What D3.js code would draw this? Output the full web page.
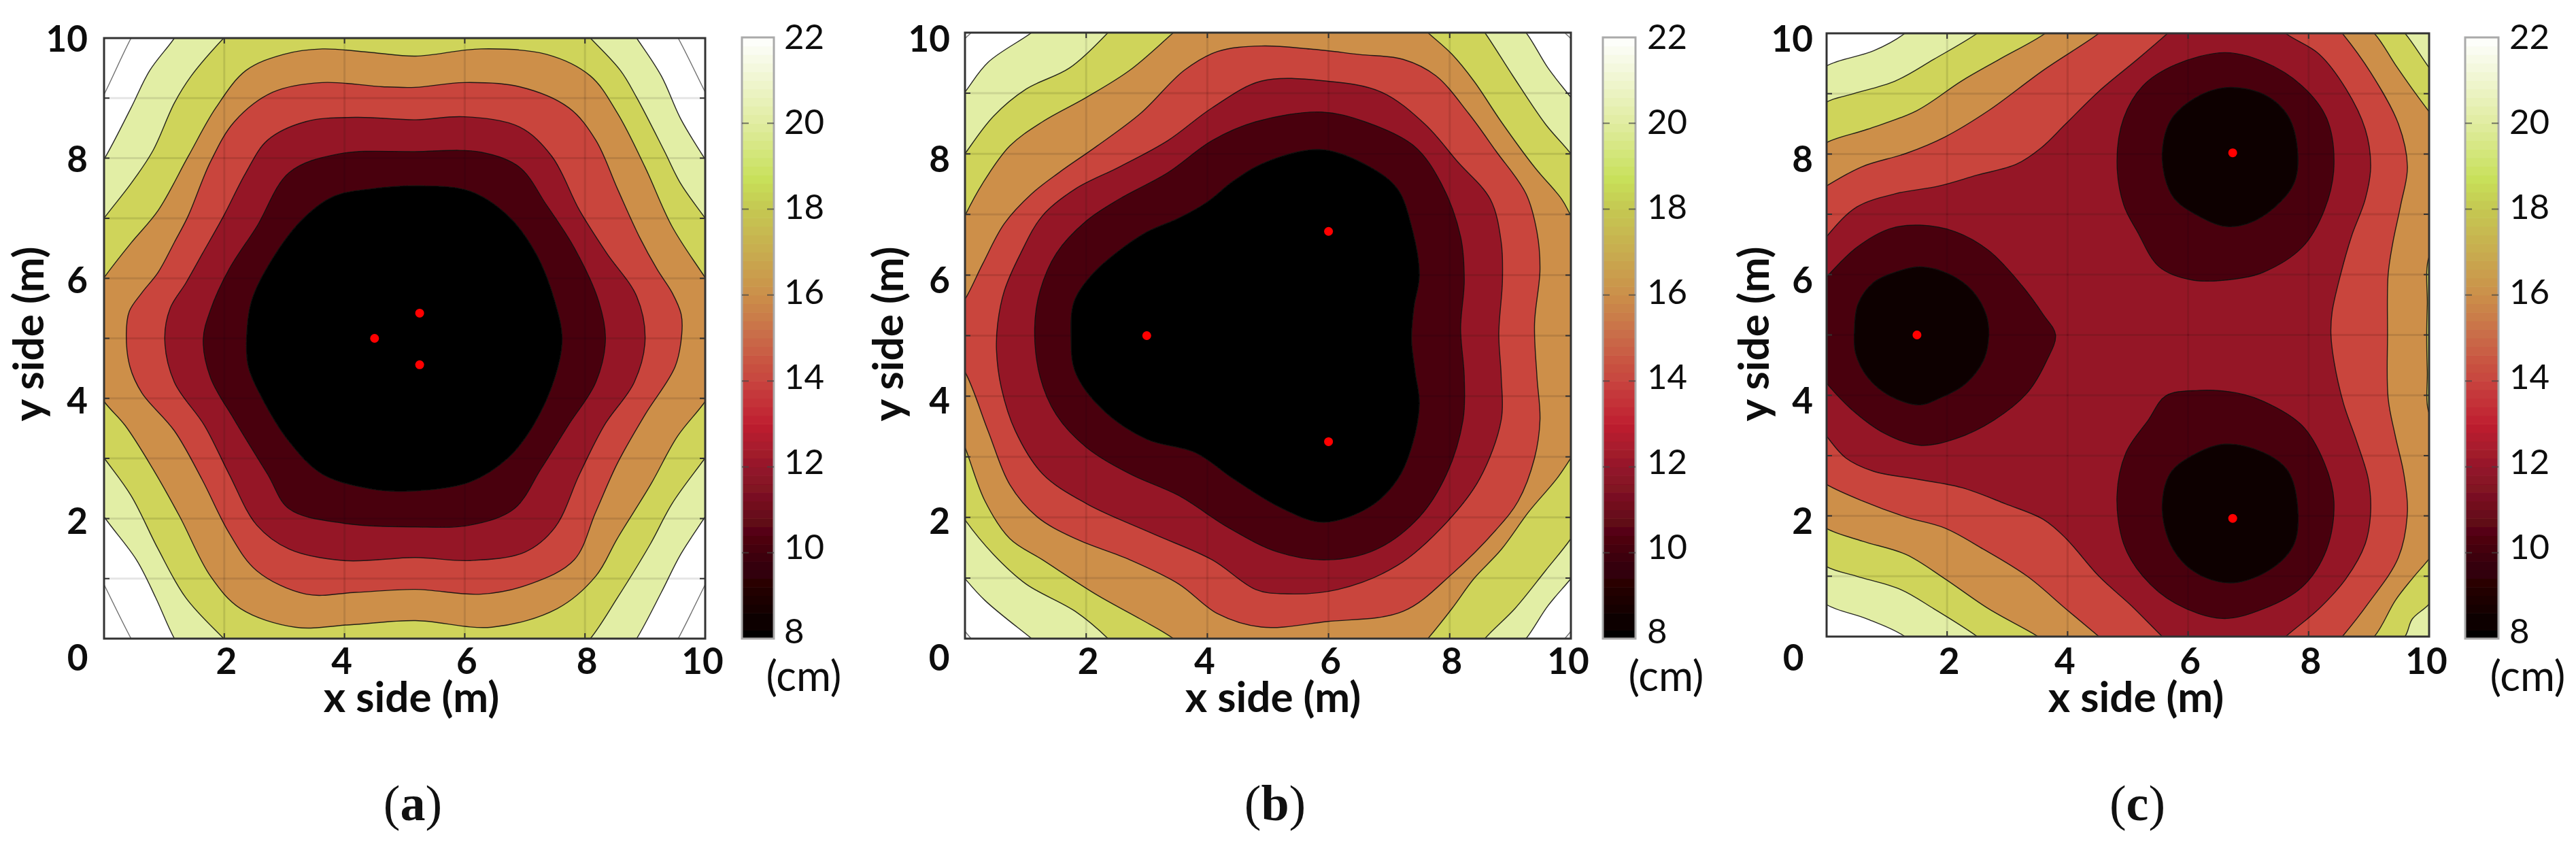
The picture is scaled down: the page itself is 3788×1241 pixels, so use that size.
<!DOCTYPE html>
<html><head><meta charset="utf-8">
<script src="https://cdn.jsdelivr.net/npm/d3@7"></script>
<style>html,body{margin:0;padding:0;background:#fff}svg{display:block}</style>
</head><body><svg id="c" width="3788" height="1241"></svg>
<script>
// ---------- data: contour rings in metres (x,y) ----------
const xTicks=[2,4,6,8,10];
const yTicks=[2,4,6,8,10];
const gridX=[2,4,6,8];
const gridY=[1,2,3,4,5,6,7,8,9];
const barTicks=[8,10,12,14,16,18,20,22];
const barStops=[8,10,11,12,13,14,15,16,17,18,18.7,20,22];
const captions=["a","b","c"];

const aSources=[[4.5,5],[5.25,5.42],[5.25,4.56]];
const aThin=[[[-.4,8.3],[0,9.06],[.45,10],[.8,10.6],[9.2,10.6],[9.55,10],[10,9.1],[10.4,8.3],[10.4,1.7],[10,.9],[9.55,0],[9.2,-.6],[.8,-.6],[.45,0],[0,.9],[-.4,1.7]]];
const aPale=[[[0,7.98],[.45,8.84],[.76,9.46],[1.17,10],[1.55,10.6],[8.45,10.6],[8.86,10],[9.27,9.37],[9.59,8.66],[10,7.98],[10.5,7.2],[10.5,2.8],[10,2.03],[9.59,1.4],[9.27,.77],[8.86,0],[8.45,-.6],[1.55,-.6],[1.17,0],[.86,.68],[.54,1.31],[0,2.03],[-.5,2.8],[-.5,7.2]]];
const aOlive=[[[0,7],[.45,7.58],[.81,8.12],[1.17,8.92],[1.45,9.37],[1.99,10],[2.5,10.5],[7.6,10.5],[8.09,10],[8.59,9.46],[8.86,9.01],[9.32,8.12],[9.59,7.58],[10,7],[10.5,6.3],[10.5,3.7],[10,3.01],[9.45,2.25],[9.09,1.58],[8.54,.68],[8.09,0],[7.6,-.5],[2.5,-.5],[1.99,0],[1.36,.68],[.9,1.49],[.45,2.38],[0,3.01],[-.5,3.7],[-.5,6.3]]];
const aOrange=[[[0,6.01],[.45,6.59],[.9,7.13],[1.4,8.03],[1.86,8.84],[2.36,9.46],[2.99,9.73],[3.63,9.82],[4.45,9.76],[5.18,9.7],[6.27,9.82],[7.36,9.73],[8.09,9.37],[8.54,8.75],[9,7.85],[9.45,6.86],[10,6.01],[10.4,5.4],[10.4,4.6],[10,3.95],[9.54,3.37],[9.09,2.56],[8.54,1.67],[8.18,1.04],[7.54,.5],[6.45,.19],[5.18,.3],[4.09,.23],[3.18,.19],[2.27,.5],[1.77,1.04],[1.26,2.03],[.81,2.83],[.35,3.55],[0,3.95],[-.4,4.6],[-.4,5.4]]];
const aRed=[[[.37,5.07],[.42,5.45],[.63,5.76],[.9,6.1],[1.17,6.6],[1.4,7.04],[1.77,7.94],[2.17,8.61],[2.81,9.1],[3.63,9.26],[4.63,9.19],[5.18,9.18],[5.99,9.26],[6.91,9.19],[7.73,8.84],[8.18,8.3],[8.54,7.49],[8.91,6.68],[9.2,6.15],[9.45,5.76],[9.6,5.4],[9.61,5.07],[9.5,4.53],[9,3.73],[8.54,2.92],[8.18,2.11],[7.82,1.31],[7.09,.91],[6.27,.74],[5.18,.82],[4.18,.77],[3.36,.74],[2.54,1.13],[2.08,1.76],[1.63,2.65],[1.17,3.46],[.63,4.09],[.43,4.53]]];
const aCrimson=[[[1.01,4.98],[1.1,5.5],[1.36,5.92],[1.63,6.4],[1.99,7.04],[2.36,7.76],[2.72,8.3],[3.36,8.61],[4.18,8.68],[5.18,8.64],[5.99,8.69],[6.91,8.52],[7.45,8.03],[7.91,7.13],[8.36,6.42],[8.86,5.7],[9,4.98],[8.82,4.27],[8.32,3.55],[7.91,2.74],[7.5,1.85],[7,1.44],[6.09,1.3],[5.18,1.35],[3.99,1.3],[3.08,1.49],[2.54,1.89],[2.08,2.74],[1.67,3.55],[1.17,4.27]]];
const aDark=[[[1.65,4.98],[1.77,5.47],[2.08,6.15],[2.54,6.86],[3.08,7.76],[3.9,8.07],[5.18,8.11],[6.27,8.1],[6.91,7.85],[7.36,7.22],[7.82,6.51],[8.23,5.61],[8.34,4.98],[8.18,4.27],[7.72,3.55],[7.27,2.83],[6.82,2.16],[6.09,1.89],[5.18,1.86],[3.99,1.92],[3.08,2.16],[2.72,2.74],[2.17,3.64],[1.77,4.35]]];
const aBlack=[[[2.37,4.98],[2.45,5.61],[2.72,6.19],[3.27,6.95],[3.81,7.36],[4.45,7.49],[5.27,7.54],[6.09,7.45],[6.72,7.04],[7.18,6.42],[7.5,5.61],[7.62,4.98],[7.5,4.35],[7.14,3.55],[6.72,3.01],[6.09,2.61],[5.18,2.46],[4.45,2.49],[3.63,2.74],[3.08,3.28],[2.63,4],[2.4,4.53]]];

const bSources=[[3,5],[6,6.72],[6,3.25]];
const bThin=[[[-.3,9.5],[0,9.9],[.1,10],[.4,10.4],[9.6,10.4],[9.9,10],[10,9.9],[10.3,9.5],[10.3,.5],[10,.12],[9.9,0],[9.6,-.4],[.4,-.4],[.1,0],[0,.12],[-.3,.5]]];
const bPale=[[[0,9.02],[.38,9.51],[1.1,10],[1.6,10.4],[8.8,10.5],[9.26,10],[9.62,9.42],[10,8.93],[10.4,8.4],[10.4,1.5],[10,.99],[9.62,.54],[9.26,0],[8.8,-.5],[1.6,-.4],[1.1,0],[.33,.63],[0,.99],[-.4,1.5],[-.4,8.5]]];
const bOlive=[[[0,8],[.47,8.62],[1.01,9.07],[1.73,9.42],[2.36,10],[2.8,10.5],[8.2,10.5],[8.58,10],[9.04,9.29],[9.58,8.49],[10,8],[10.4,7.4],[10.4,2.3],[10,1.65],[9.58,1.12],[9.08,.5],[8.58,0],[8.2,-.5],[2.8,-.5],[2.36,0],[1.82,.45],[1.01,.9],[.47,1.39],[0,1.96],[-.4,2.6],[-.4,7.4]]];
const bOrange=[[[0,6.98],[.29,7.51],[.74,8.13],[1.28,8.53],[2,8.93],[2.72,9.38],[3.44,10],[3.9,10.4],[7.2,10.4],[7.64,10],[8.04,9.64],[8.4,9.2],[8.85,8.53],[9.4,7.78],[9.85,7.25],[10,6.98],[10.4,6.3],[10.4,3.6],[10,2.98],[9.76,2.63],[9.31,2.1],[8.85,1.47],[8.4,.99],[8.04,.5],[7.64,0],[7.2,-.5],[3.9,-.4],[3.44,0],[2.9,.32],[2.18,.72],[1.28,1.3],[.74,1.65],[.33,2.27],[0,3.16],[-.3,3.9],[-.3,6.3]]];
const bRed=[[[0,5.6],[.29,6.18],[.65,6.85],[1.1,7.34],[1.55,7.69],[2.18,8.13],[2.9,8.67],[3.62,9.38],[4.17,9.69],[4.89,9.78],[5.7,9.73],[6.51,9.64],[7.23,9.56],[7.77,9.29],[8.31,8.67],[8.76,8.05],[9.26,7.34],[9.44,6.71],[9.49,6.09],[9.4,5.2],[9.44,4.32],[9.49,3.61],[9.4,2.98],[9.13,2.27],[8.76,1.79],[8.04,1.07],[7.23,.45],[5.97,.28],[4.89,.19],[4.17,.41],[3.53,.9],[2.72,1.3],[1.82,1.65],[1.19,2.01],[.74,2.54],[.38,3.43],[0,4.4],[-.3,4.8],[-.3,5.2]]];
const bCrimson=[[[.54,5.2],[.65,5.74],[.92,6.36],[1.28,6.98],[1.82,7.42],[2.54,7.78],[3.35,8.22],[4.08,8.76],[4.89,9.2],[5.97,9.2],[6.87,9.02],[7.59,8.49],[8.13,7.87],[8.67,7.25],[8.85,6.54],[8.87,5.91],[8.81,5.03],[8.85,4.32],[8.85,3.61],[8.49,2.63],[7.95,1.92],[7.14,1.21],[6.15,.81],[5.25,.74],[4.8,.81],[4.08,1.3],[3.08,1.74],[2,2.23],[1.28,2.72],[.83,3.43],[.6,4.14],[.52,4.76]]];
const bDark=[[[1.15,5.12],[1.24,5.74],[1.51,6.36],[2,6.89],[2.54,7.25],[3.35,7.69],[4.08,8.22],[4.8,8.53],[5.88,8.69],[6.6,8.53],[7.41,8.13],[7.86,7.51],[8.18,6.63],[8.24,5.91],[8.18,5.12],[8.24,4.32],[8.22,3.61],[7.95,2.72],[7.5,2.01],[6.78,1.47],[5.97,1.3],[5.16,1.43],[4.35,1.83],[3.53,2.36],[2.72,2.72],[2,3.16],[1.51,3.69],[1.24,4.32]]];
const bBlack=[[[1.75,4.98],[1.8,5.56],[2.09,6],[2.54,6.4],[3,6.71],[3.53,6.94],[3.99,7.2],[4.44,7.56],[4.98,7.87],[5.88,8.07],[6.69,7.78],[7.14,7.42],[7.37,6.8],[7.5,6],[7.41,5.47],[7.37,4.94],[7.43,4.4],[7.5,3.87],[7.37,3.16],[7.14,2.63],[6.69,2.18],[5.92,1.92],[5.25,2.14],[4.44,2.63],[3.8,3.07],[3,3.29],[2.27,3.78],[1.82,4.4]]];

const cSources=[[1.5,5],[6.74,8.02],[6.74,1.96]];
const cPale=[[[0,9.46],[.78,9.71],[1.3,10],[1.8,10.5],[10.5,10.5],[10.5,-.5],[1.8,-.5],[1.3,0],[.68,.29],[0,.53],[-.4,.9],[-.4,9.1]]];
const cOlive=[[[0,8.86],[.41,8.99],[1.14,9.21],[1.78,9.57],[2.5,10],[3,10.4],[9.2,10.4],[9.6,10],[10,9.43],[10.4,8.9],[10.4,1.1],[10,.54],[9.72,.29],[9.6,0],[9.2,-.4],[3,-.4],[2.5,0],[1.78,.46],[1.23,.78],[.5,1],[0,1.16],[-.4,1.5],[-.4,8.5]]];
const cOrange=[[[0,8.19],[.68,8.41],[1.5,8.72],[2.24,9.21],[2.87,9.57],[3.63,10],[4.1,10.4],[8.6,10.4],[9.09,10],[9.44,9.48],[9.72,9.08],[10,8.7],[10.3,8.3],[10.3,6.7],[10,6.3],[9.97,5.5],[9.96,5],[9.97,4.4],[10,3.7],[10.3,3.3],[10.3,1.7],[10,1.29],[9.72,.96],[9.44,.6],[9.09,0],[8.6,-.4],[4.1,-.4],[3.51,0],[2.69,.46],[1.96,.96],[1.32,1.36],[.6,1.58],[0,1.79],[-.4,2.1],[-.4,7.9]]];
const cRed=[[[0,7.47],[.59,7.79],[1.32,8.01],[1.96,8.28],[2.69,8.72],[3.6,9.39],[4.52,10],[5,10.4],[8.2,10.4],[8.56,10],[9.03,9.35],[9.49,8.5],[9.64,7.79],[9.53,7.16],[9.4,6.54],[9.32,6],[9.31,5.02],[9.32,3.95],[9.44,3.32],[9.58,2.7],[9.64,2.07],[9.49,1.31],[8.99,.55],[8.56,0],[8.2,-.4],[5,-.4],[4.52,0],[3.97,.46],[3.33,1],[2.6,1.45],[1.96,1.8],[1.32,1.98],[.59,2.25],[0,2.52],[-.4,2.8],[-.4,7.2]]];
const cCrimson=[[[0,6.63],[.5,7.12],[1.14,7.34],[1.87,7.47],[2.5,7.65],[3.15,7.83],[3.56,8.1],[3.97,8.5],[4.52,9.04],[5.16,9.57],[5.66,10],[6.1,10.4],[7.2,10.4],[7.62,10],[8.17,9.66],[8.62,9.08],[8.94,8.41],[9.03,7.79],[8.94,7.25],[8.71,6.63],[8.53,6],[8.39,5.38],[8.37,5.02],[8.42,4.57],[8.58,3.86],[8.8,3.23],[8.99,2.61],[9.03,2.07],[8.94,1.54],[8.62,.96],[8.17,.46],[7.62,0],[7.2,-.4],[6,-.4],[5.57,0],[5.06,.51],[4.52,1],[3.97,1.63],[3.6,1.94],[2.97,2.2],[2.24,2.47],[1.5,2.61],[.78,2.74],[.32,2.96],[0,3.32],[-.3,3.7],[-.3,6.2]]];
const cDark=[
 [[0,5.96],[.5,6.45],[1.05,6.76],[1.55,6.82],[2.14,6.71],[2.69,6.4],[3.24,5.82],[3.6,5.33],[3.8,5],[3.65,4.57],[3.33,4.04],[2.78,3.59],[2.14,3.28],[1.55,3.17],[.96,3.37],[.41,3.77],[0,4.2],[-.3,4.6],[-.3,5.6]],
 [[4.82,7.88],[4.93,8.59],[5.25,9.13],[5.79,9.48],[6.61,9.68],[7.25,9.53],[7.89,9.13],[8.3,8.59],[8.42,7.79],[8.26,7.07],[7.89,6.45],[7.25,6.04],[6.8,5.93],[6.07,5.91],[5.52,6.13],[5.16,6.71],[4.93,7.16]],
 [[4.82,2.34],[4.93,1.54],[5.25,1],[5.79,.55],[6.57,.3],[7.25,.46],[7.89,.82],[8.3,1.45],[8.42,2.25],[8.26,2.88],[7.89,3.5],[7.25,3.9],[6.8,4.04],[6.16,4.08],[5.63,3.99],[5.34,3.59],[4.97,3.05]]];
const cBlack=[
 [[.46,5.02],[.52,5.51],[.78,5.87],[1.14,6.04],[1.55,6.13],[2.05,6],[2.42,5.73],[2.65,5.33],[2.69,4.97],[2.6,4.57],[2.28,4.17],[1.87,3.95],[1.55,3.84],[1.05,3.99],[.68,4.3],[.48,4.7]],
 [[5.57,7.92],[5.7,8.54],[6.07,8.9],[6.61,9.1],[7.25,8.99],[7.66,8.63],[7.82,8.01],[7.76,7.52],[7.44,7.12],[7,6.85],[6.61,6.8],[6.16,6.98],[5.75,7.29]],
 [[5.57,2.12],[5.7,2.7],[6.07,3],[6.61,3.19],[7.25,3.05],[7.66,2.74],[7.82,2.12],[7.76,1.54],[7.39,1.13],[6.75,.89],[6.16,1.04],[5.75,1.45]]];

// ---------- styles & layout ----------
const bandColors={thin:"#ffffff",pale:"#e2eea5",olive:"#cfd45a",orange:"#cd8f4a",red:"#c9443c",crimson:"#951628",dark:"#4a040e",black:"#000000",ink:"#0d0002"};
const barColors=["#000000","#40000a","#6e0c1c","#94182a","#bf2030","#c8443e","#c96a48","#cb8f4a","#c8ac50","#c5c851","#c8e05a","#e0eca0","#ffffff"];
const sans="Lato, 'Open Sans', sans-serif";
const panels=[
 {left:153,right:1037,top:56,bottom:939,bar:[1091,1138],barLabel:1153,cm:1182,yLab:129,yTitle:44,xTitle:605,cap:607,zeroX:114,
  levels:[["thin",aThin],["pale",aPale],["olive",aOlive],["orange",aOrange],["red",aRed],["crimson",aCrimson],["dark",aDark],["black",aBlack]],src:aSources},
 {left:1419,right:2310,top:48,bottom:939,bar:[2357,2405],barLabel:2422,cm:2450,yLab:1397,yTitle:1308,xTitle:1872,cap:1875,zeroX:1381,
  levels:[["thin",bThin],["pale",bPale],["olive",bOlive],["orange",bOrange],["red",bRed],["crimson",bCrimson],["dark",bDark],["black",bBlack]],src:bSources},
 {left:2686,right:3572,top:49,bottom:936,bar:[3625,3674],barLabel:3690,cm:3717,yLab:2666,yTitle:2581,xTitle:3141,cap:3143,zeroX:2637,
  levels:[["pale",cPale],["olive",cOlive],["orange",cOrange],["red",cRed],["crimson",cCrimson],["dark",cDark],["ink",cBlack]],src:cSources}
];
const xNudge={2:3,4:-4,6:3,8:3,10:-4};

const svg=d3.select("#c");
const defs=svg.append("defs");
defs.append("filter").attr("id","soft").attr("x","-2%").attr("y","-2%").attr("width","104%").attr("height","104%")
  .append("feGaussianBlur").attr("stdDeviation",0.7);
const barColor=d3.scaleLinear().domain(barStops).range(barColors).clamp(true);

panels.forEach((p,i)=>{
  const x=d3.scaleLinear().domain([0,10]).range([p.left,p.right]);
  const y=d3.scaleLinear().domain([0,10]).range([p.bottom,p.top]);
  const yLabel=d3.scaleLinear().domain([2,10]).range([766,57]);
  const line=d3.line().x(d=>x(d[0])).y(d=>y(d[1])).curve(d3.curveCatmullRomClosed.alpha(0.5));
  defs.append("clipPath").attr("id","clip"+i).append("rect")
    .attr("x",p.left).attr("y",p.top).attr("width",p.right-p.left).attr("height",p.bottom-p.top);

  const g=svg.append("g").attr("filter","url(#soft)");
  const plot=g.append("g").attr("clip-path",`url(#clip${i})`);
  plot.append("rect").attr("x",p.left).attr("y",p.top).attr("width",p.right-p.left).attr("height",p.bottom-p.top).attr("fill","#fff");
  p.levels.forEach(([name,rings])=>{
    plot.selectAll(null).data(rings).join("path").attr("d",line)
      .attr("fill",bandColors[name]).attr("stroke","#111").attr("stroke-width",1.4)
      .attr("stroke-opacity",name==="thin"?0.6:0.9).attr("stroke-linejoin","round");
  });
  // grid
  plot.selectAll(null).data(gridX).join("line").attr("x1",d=>x(d)).attr("x2",d=>x(d)).attr("y1",p.top).attr("y2",p.bottom)
    .attr("stroke","#000").attr("stroke-opacity",0.1).attr("stroke-width",3);
  plot.selectAll(null).data(gridY).join("line").attr("y1",d=>y(d)).attr("y2",d=>y(d)).attr("x1",p.left).attr("x2",p.right)
    .attr("stroke","#000").attr("stroke-opacity",0.1).attr("stroke-width",3);
  // small inner ticks
  g.selectAll(null).data(gridY).join("path")
    .attr("d",d=>`M${p.left},${y(d)}h8M${p.right},${y(d)}h-8`).attr("stroke","#333").attr("stroke-width",2).attr("fill","none");
  g.selectAll(null).data(gridX).join("path")
    .attr("d",d=>`M${x(d)},${p.top}v8M${x(d)},${p.bottom}v-8`).attr("stroke","#333").attr("stroke-width",2).attr("fill","none");
  // frame
  g.append("rect").attr("x",p.left).attr("y",p.top).attr("width",p.right-p.left).attr("height",p.bottom-p.top)
    .attr("fill","none").attr("stroke","#333").attr("stroke-width",3);
  // sources
  g.selectAll(null).data(p.src).join("circle").attr("cx",d=>x(d[0])).attr("cy",d=>y(d[1])).attr("r",6.5).attr("fill","#f00");

  // colour bar
  const by=d3.scaleLinear().domain([8,22]).range([939,55]);
  const steps=d3.range(8,22,0.2);
  const bw=p.bar[1]-p.bar[0];
  g.selectAll(null).data(steps).join("rect").attr("x",p.bar[0]).attr("width",bw)
    .attr("y",d=>by(d+0.2)).attr("height",d=>by(d)-by(d+0.2)+0.6).attr("fill",d=>barColor(d+0.1));
  g.append("rect").attr("x",p.bar[0]).attr("y",55).attr("width",bw).attr("height",884).attr("fill","none").attr("stroke","#aaa").attr("stroke-width",3);
  g.selectAll(null).data(barTicks.slice(1,-1)).join("path")
    .attr("d",d=>`M${p.bar[0]},${by(d)}h10M${p.bar[1]},${by(d)}h-10`).attr("stroke","#444").attr("stroke-opacity",.7).attr("stroke-width",2).attr("fill","none");

  // text
  const barLabelY=d3.scaleLinear().domain([8,22]).range([928,54]);
  const t=svg.append("g").attr("font-family",sans).attr("fill","#111").attr("filter","url(#soft)");
  t.selectAll(null).data(barTicks).join("text").attr("x",p.barLabel).attr("y",d=>barLabelY(d)).attr("dy","0.36em")
    .attr("font-size",51).text(d=>d);
  t.append("text").attr("x",p.cm).attr("y",994).attr("dy","0.36em").attr("text-anchor","middle").attr("font-size",62).text("(cm)");
  t.selectAll(null).data(yTicks).join("text").attr("x",p.yLab).attr("y",d=>yLabel(d)).attr("dy","0.36em").attr("text-anchor","end")
    .attr("font-size",53).attr("font-weight",700).text(d=>d);
  t.append("text").attr("x",p.zeroX).attr("y",967).attr("dy","0.36em").attr("text-anchor","middle").attr("font-size",53).attr("font-weight",700).text("0");
  t.selectAll(null).data(xTicks).join("text").attr("x",d=>x(d)+xNudge[d]).attr("y",972).attr("dy","0.36em").attr("text-anchor","middle")
    .attr("font-size",53).attr("font-weight",700).text(d=>d);
  t.append("text").attr("x",p.xTitle).attr("y",1027).attr("dy","0.33em").attr("text-anchor","middle").attr("font-size",62).attr("font-weight",700).text("x side (m)");
  t.append("text").attr("transform",`translate(${p.yTitle},491) rotate(-90)`).attr("dy","0.33em").attr("text-anchor","middle").attr("font-size",62).attr("font-weight",700).text("y side (m)");
  const cap=svg.append("text").attr("x",p.cap).attr("y",1184).attr("dy","0.3em").attr("text-anchor","middle")
    .attr("font-family","'Liberation Serif',serif").attr("font-size",74).attr("fill","#111");
  cap.append("tspan").text("(");
  cap.append("tspan").attr("font-weight",700).text(captions[i]);
  cap.append("tspan").text(")");
});
</script></body></html>
